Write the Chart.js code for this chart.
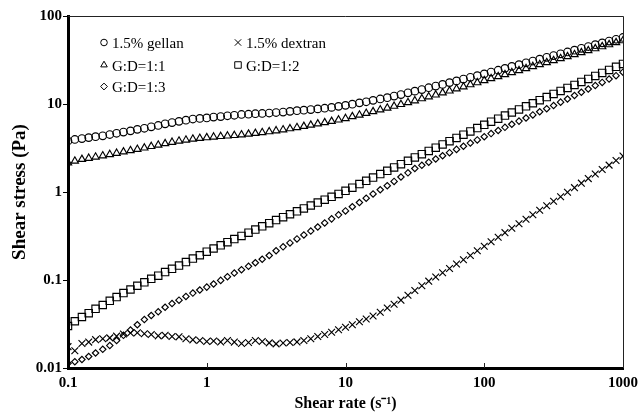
<!DOCTYPE html>
<html>
<head>
<meta charset="utf-8">
<script src="https://cdn.jsdelivr.net/npm/chart.js@4.4.1/dist/chart.umd.min.js"></script>
<style>
  html, body { margin: 0; padding: 0; background: #fff; }
  #wrap { width: 644px; height: 413px; position: relative; }
</style>
</head>
<body>
<div id="wrap"><canvas id="flowChart"></canvas></div>
<script>
// shear rate steps (s-1), 20 per decade
var shearRate = [
  0.1, 0.112, 0.126, 0.141, 0.158, 0.178, 0.2, 0.224, 0.251, 0.282, 0.316, 0.355, 0.398, 0.447, 0.501, 0.562, 0.631, 0.708, 0.794, 0.891,
  1, 1.12, 1.26, 1.41, 1.58, 1.78, 2, 2.24, 2.51, 2.82, 3.16, 3.55, 3.98, 4.47, 5.01, 5.62, 6.31, 7.08, 7.94, 8.91,
  10, 11.2, 12.6, 14.1, 15.8, 17.8, 20, 22.4, 25.1, 28.2, 31.6, 35.5, 39.8, 44.7, 50.1, 56.2, 63.1, 70.8, 79.4, 89.1,
  100, 112, 126, 141, 158, 178, 200, 224, 251, 282, 316, 355, 398, 447, 501, 562, 631, 708, 794, 891, 1000
];

// shear stress (Pa)
var gellan = [
  3.8, 3.95, 4.05, 4.15, 4.25, 4.35, 4.5, 4.65, 4.8, 4.95, 5.15, 5.3, 5.5, 5.7, 5.95, 6.15, 6.35, 6.55, 6.75, 6.85,
  6.95, 7.1, 7.2, 7.35, 7.45, 7.6, 7.65, 7.75, 7.8, 7.9, 8.0, 8.1, 8.25, 8.4, 8.5, 8.65, 8.8, 8.95, 9.15, 9.4,
  9.65, 9.95, 10.3, 10.6, 11.0, 11.4, 11.8, 12.3, 12.8, 13.4, 14.0, 14.6, 15.3, 16.0, 16.7, 17.5, 18.3, 19.2, 20.1, 21.0,
  22.0, 23.1, 24.2, 25.4, 26.7, 28.0, 29.4, 30.8, 32.3, 33.9, 35.5, 37.2, 39.0, 40.9, 42.9, 45.0, 47.2, 49.5, 51.9, 54.4, 57.0
];
var dextran = [
  0.0175, 0.0157, 0.019, 0.0197, 0.021, 0.0215, 0.022, 0.023, 0.0243, 0.025, 0.0252, 0.0245, 0.024, 0.0232, 0.0235, 0.0228, 0.0226, 0.0215, 0.0209, 0.0205,
  0.02, 0.0203, 0.0198, 0.0205, 0.0197, 0.019, 0.0195, 0.0205, 0.02, 0.0193, 0.0188, 0.0192, 0.0195, 0.0198, 0.0205, 0.0215, 0.0228, 0.024, 0.0255, 0.0272,
  0.029, 0.031, 0.0335, 0.036, 0.039, 0.043, 0.048, 0.053, 0.059, 0.067, 0.076, 0.086, 0.097, 0.108, 0.121, 0.135, 0.152, 0.17, 0.19, 0.215,
  0.242, 0.272, 0.306, 0.345, 0.388, 0.436, 0.49, 0.552, 0.621, 0.699, 0.786, 0.884, 0.995, 1.12, 1.26, 1.42, 1.6, 1.8, 2.02, 2.28, 2.56
];
var gd11 = [
  2.15, 2.25, 2.35, 2.42, 2.5, 2.58, 2.67, 2.76, 2.86, 2.96, 3.06, 3.17, 3.3, 3.42, 3.55, 3.68, 3.8, 3.9, 4.0, 4.08,
  4.15, 4.22, 4.28, 4.34, 4.4, 4.47, 4.55, 4.64, 4.74, 4.85, 4.97, 5.1, 5.25, 5.41, 5.58, 5.76, 5.95, 6.15, 6.36, 6.6,
  6.85, 7.2, 7.5, 7.85, 8.2, 8.6, 9.0, 9.45, 9.9, 10.4, 10.9, 11.5, 12.1, 12.7, 13.4, 14.1, 14.9, 15.7, 16.6, 17.5,
  18.5, 19.5, 20.5, 21.6, 22.8, 24.0, 25.3, 26.7, 28.1, 29.6, 31.2, 32.9, 34.6, 36.5, 38.4, 40.5, 42.6, 44.9, 47.3, 49.9, 52.5
];
var gd12 = [
  0.030, 0.034, 0.038, 0.042, 0.047, 0.052, 0.058, 0.064, 0.071, 0.078, 0.086, 0.094, 0.103, 0.112, 0.123, 0.134, 0.146, 0.16, 0.175, 0.191,
  0.21, 0.228, 0.248, 0.269, 0.292, 0.317, 0.345, 0.374, 0.407, 0.442, 0.48, 0.518, 0.559, 0.603, 0.651, 0.702, 0.758, 0.818, 0.882, 0.952,
  1.03, 1.12, 1.23, 1.34, 1.46, 1.6, 1.74, 1.9, 2.07, 2.26, 2.47, 2.69, 2.93, 3.19, 3.47, 3.78, 4.12, 4.48, 4.88, 5.32,
  5.8, 6.29, 6.82, 7.39, 8.01, 8.68, 9.41, 10.2, 11.06, 11.99, 13.0, 14.07, 15.22, 16.47, 17.82, 19.28, 20.86, 22.57, 24.42, 26.42, 28.5
];
var gd13 = [
  0.0113, 0.0118, 0.0125, 0.0135, 0.0148, 0.0163, 0.018, 0.0205, 0.0235, 0.027, 0.031, 0.0355, 0.0395, 0.0435, 0.049, 0.054, 0.059, 0.065, 0.071, 0.077,
  0.083, 0.09, 0.099, 0.109, 0.12, 0.131, 0.143, 0.157, 0.172, 0.19, 0.215, 0.238, 0.264, 0.293, 0.325, 0.36, 0.4, 0.445, 0.495, 0.55,
  0.61, 0.68, 0.76, 0.85, 0.95, 1.06, 1.18, 1.32, 1.48, 1.65, 1.85, 2.01, 2.18, 2.37, 2.58, 2.8, 3.05, 3.31, 3.6, 3.91,
  4.25, 4.61, 5.0, 5.43, 5.89, 6.39, 6.93, 7.52, 8.16, 8.85, 9.6, 10.5, 11.4, 12.5, 13.6, 14.8, 16.2, 17.6, 19.2, 21.0, 23.0
];

var seriesNames = ['1.5% gellan', '1.5% dextran', 'G:D=1:1', 'G:D=1:2', 'G:D=1:3'];
var xTicks = [0.1, 1, 10, 100, 1000];
var xTickLabels = ['0.1', '1', '10', '100', '1000'];
var yTicks = [0.01, 0.1, 1, 10, 100];
var yTickLabels = ['0.01', '0.1', '1', '10', '100'];

var serif = '"Liberation Serif", "Times New Roman", serif';

function toPoints(vals) {
  return vals.map(function(v, i) { return { x: shearRate[i], y: v }; });
}

function makeSet(label, vals, style, r) {
  return {
    label: label,
    data: toPoints(vals),
    showLine: false,
    pointStyle: style,
    pointRadius: r,
    borderColor: '#000',
    backgroundColor: 'rgba(0,0,0,0)',
    pointBorderWidth: 1.15
  };
}

// legend drawn inside the plot, two columns
var legendSlots = [
  { x: 104, y: 48, r: 3.3 },
  { x: 238, y: 48, r: 4.5 },
  { x: 104, y: 70.5, r: 3.8 },
  { x: 238, y: 70.5, r: 4.6 },
  { x: 104, y: 92, r: 3.4 }
];

var insetLegend = {
  id: 'insetLegend',
  afterDraw: function(chart) {
    var ctx = chart.ctx;
    ctx.save();
    chart.data.datasets.forEach(function(ds, i) {
      var s = legendSlots[i];
      ctx.strokeStyle = '#000';
      ctx.fillStyle = 'rgba(0,0,0,0)';
      ctx.lineWidth = 1;
      Chart.helpers.drawPoint(ctx, { pointStyle: ds.pointStyle, radius: s.r, rotation: 0, borderWidth: 1 }, s.x, s.y - 5.5);
      ctx.fillStyle = '#000';
      ctx.font = '15px ' + serif;
      ctx.textBaseline = 'alphabetic';
      ctx.textAlign = 'left';
      ctx.fillText(ds.label, s.x + 8, s.y);
    });
    ctx.restore();
  }
};

// thin top/right frame and inward ticks on the x axis
var frame = {
  id: 'frame',
  afterDraw: function(chart) {
    var ctx = chart.ctx, a = chart.chartArea, xs = chart.scales.x;
    ctx.save();
    ctx.strokeStyle = '#222';
    ctx.lineWidth = 1;
    ctx.beginPath();
    ctx.moveTo(a.left, a.top + 0.5);
    ctx.lineTo(a.right + 0.5, a.top + 0.5);
    ctx.lineTo(a.right + 0.5, a.bottom);
    ctx.stroke();
    ctx.beginPath();
    xTicks.slice(1, -1).forEach(function(v) {
      var px = Math.round(xs.getPixelForValue(v)) + 0.5;
      ctx.moveTo(px, a.bottom);
      ctx.lineTo(px, a.bottom - 5);
    });
    ctx.stroke();
    ctx.restore();
  }
};

new Chart(document.getElementById('flowChart'), {
  type: 'scatter',
  data: {
    datasets: [
      makeSet(seriesNames[0], gellan, 'circle', 3.8),
      makeSet(seriesNames[1], dextran, 'crossRot', 4.8),
      makeSet(seriesNames[2], gd11, 'triangle', 4.2),
      makeSet(seriesNames[3], gd12, 'rect', 5.2),
      makeSet(seriesNames[4], gd13, 'rectRot', 3.2)
    ]
  },
  options: {
    responsive: true,
    maintainAspectRatio: false,
    animation: false,
    layout: { padding: { top: 16, right: 17, bottom: 0, left: 0 } },
    plugins: { legend: { display: false }, tooltip: { enabled: false } },
    scales: {
      x: {
        type: 'logarithmic',
        min: 0.1,
        max: 1000,
        afterBuildTicks: function(s) { s.ticks = xTicks.map(function(v) { return { value: v }; }); },
        afterFit: function(s) { s.height = 45; },
        ticks: {
          autoSkip: false,
          maxRotation: 0,
          padding: 6,
          color: '#000',
          font: { family: serif, size: 15, weight: 'bold' },
          callback: function(v, i) { return xTickLabels[i]; }
        },
        grid: { display: false, drawTicks: false },
        border: { display: true, color: '#000', width: 3 },
        title: {
          display: true,
          text: 'Shear rate (s\u207B\u00B9)',
          color: '#000',
          font: { family: serif, size: 16, weight: 'bold' },
          padding: { top: 0, bottom: 0 }
        }
      },
      y: {
        type: 'logarithmic',
        min: 0.01,
        max: 100,
        afterBuildTicks: function(s) { s.ticks = yTicks.map(function(v) { return { value: v }; }); },
        afterFit: function(s) { s.width = 68; },
        ticks: {
          autoSkip: false,
          padding: 1,
          color: '#000',
          font: { family: serif, size: 15, weight: 'bold' },
          callback: function(v, i) { return yTickLabels[i]; }
        },
        grid: { display: true, drawOnChartArea: false, drawTicks: true, tickLength: 5, color: '#000', lineWidth: 1 },
        border: { display: true, color: '#000', width: 3 },
        title: {
          display: true,
          text: 'Shear stress (Pa)',
          color: '#000',
          font: { family: serif, size: 19, weight: 'bold' },
          padding: { top: 9, bottom: 0 }
        }
      }
    }
  },
  plugins: [insetLegend, frame]
});
</script>
</body>
</html>
